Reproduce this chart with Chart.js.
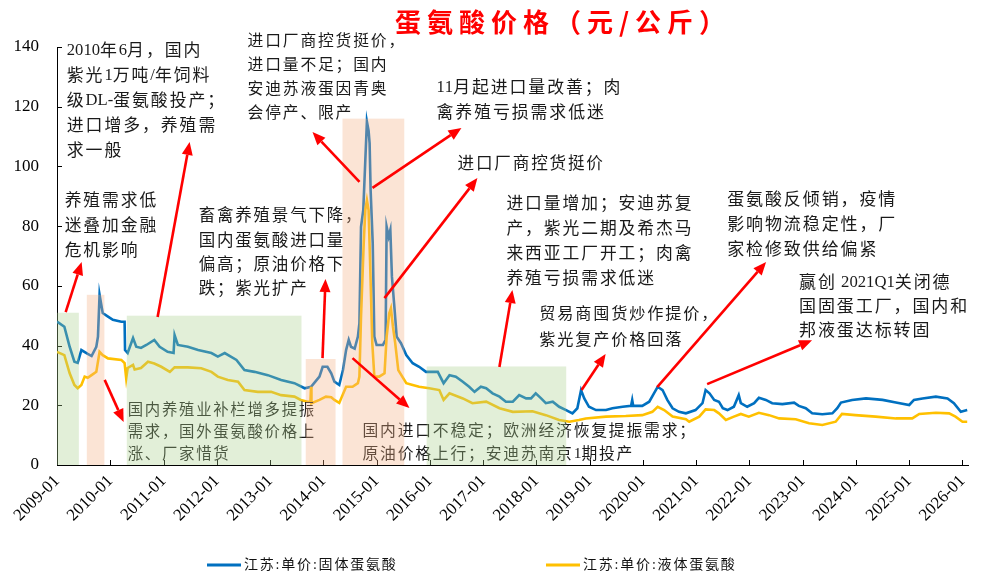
<!DOCTYPE html>
<html><head><meta charset="utf-8">
<script src="https://cdn.jsdelivr.net/npm/chart.js@4.4.1/dist/chart.umd.min.js"></script>
<style>html,body{margin:0;padding:0;background:#fff}canvas{display:block}</style>
</head><body>
<canvas id="c" width="983" height="579"></canvas>
<script>
// ---------- data ----------
const solidLabel = '江苏:单价:固体蛋氨酸';
const liquidLabel = '江苏:单价:液体蛋氨酸';
const solidDates = ['2009-01-01','2009-02-21','2009-03-27','2009-04-29','2009-05-21','2009-06-16','2009-07-29','2009-08-25','2009-09-27','2009-10-08','2009-10-19','2009-11-10','2009-12-16','2010-01-19','2010-03-16','2010-04-08','2010-04-11','2010-04-29','2010-06-05','2010-06-27','2010-07-29','2010-09-05','2010-10-29','2010-12-05','2011-01-29','2011-03-09','2011-03-16','2011-04-08','2011-06-16','2011-08-25','2011-11-25','2012-01-08','2012-02-25','2012-05-14','2012-07-08','2012-09-16','2012-12-16','2013-03-16','2013-06-16','2013-08-25','2013-10-08','2013-10-29','2013-12-05','2013-12-27','2014-01-29','2014-02-25','2014-03-16','2014-04-19','2014-05-14','2014-06-05','2014-06-23','2014-07-08','2014-08-03','2014-08-25','2014-09-05','2014-09-16','2014-10-01','2014-10-15','2014-10-26','2014-11-07','2014-11-14','2014-11-21','2014-12-05','2014-12-16','2015-01-01','2015-02-14','2015-03-02','2015-03-09','2015-03-23','2015-04-04','2015-04-15','2015-05-03','2015-05-17','2015-06-16','2015-07-22','2015-09-05','2015-10-19','2015-12-05','2016-02-25','2016-04-04','2016-05-14','2016-06-27','2016-08-14','2016-09-27','2016-11-03','2016-12-16','2017-01-22','2017-03-05','2017-04-22','2017-06-05','2017-07-22','2017-09-05','2017-10-22','2017-11-25','2017-12-27','2018-02-03','2018-03-05','2018-04-22','2018-06-05','2018-07-22','2018-09-05','2018-10-08','2018-11-03','2018-11-25','2018-12-27','2019-02-14','2019-04-22','2019-06-05','2019-08-14','2019-10-11','2019-10-19','2019-10-26','2019-12-27','2020-02-14','2020-03-16','2020-04-11','2020-05-14','2020-06-16','2020-07-22','2020-09-05','2020-10-22','2020-12-27','2021-02-14','2021-03-05','2021-04-01','2021-05-03','2021-06-05','2021-07-01','2021-08-03','2021-09-16','2021-10-19','2021-11-03','2021-12-16','2022-02-03','2022-03-05','2022-04-22','2022-06-05','2022-08-14','2022-11-03','2022-12-05','2023-01-22','2023-03-05','2023-05-14','2023-07-22','2023-08-25','2023-09-20','2023-12-05','2024-03-09','2024-07-01','2024-10-01','2025-01-01','2025-02-03','2025-04-01','2025-07-01','2025-09-20','2025-11-03','2025-12-20','2026-02-03'];
const solidPrice = [48,46.3,39.6,34.6,34.2,38.5,37.2,36.5,39.6,43,57,50.9,49.7,48.6,48,48,38.5,37.5,42.5,39.6,39.2,40.2,41.9,39.6,37.9,37.5,43.5,40.2,39.6,38.5,37.5,36.3,37.5,35.2,31.8,31.2,30.1,28.5,27.4,25.7,26.2,27.4,29.6,32.9,32.9,30.7,27.9,26.8,31.8,38.5,41.9,39.6,39,43,47.5,79.8,85.4,102,115,112,107.8,92,74.3,43,40.2,40.2,41.9,79.8,76.5,78.7,63,51.9,43,40.8,36.8,34.1,32.9,31.2,31.2,27.4,30.1,29.6,27.9,26.2,24.5,26.2,25.7,24,22.9,21.2,21.2,23.4,22.3,22.3,24,22.3,20.7,21.2,19.5,18.4,17.3,19,25.1,22.3,19.5,18.4,18.4,19,19.5,19.8,21.8,19.8,19.8,21.2,24,26.2,25.1,21.8,19,17.8,17.3,18.4,20.7,25.1,24,21.8,21.2,19,18.4,19.5,23.4,20.7,19.5,20.7,22.5,21.8,20.7,20.4,20.9,19.8,19,17.3,17,17.3,19,20.9,21.8,22.3,21.8,20.9,20.1,21.8,22.3,22.9,22.3,20.7,17.8,18.4];
const liquidDates = ['2009-01-01','2009-02-21','2009-03-27','2009-04-29','2009-05-21','2009-06-16','2009-07-08','2009-07-29','2009-08-25','2009-09-27','2009-10-19','2009-11-10','2009-12-16','2010-03-16','2010-04-08','2010-04-19','2010-04-29','2010-06-05','2010-06-16','2010-07-29','2010-09-16','2010-10-29','2010-12-16','2011-02-14','2011-03-16','2011-06-16','2011-09-16','2011-11-25','2012-01-08','2012-03-16','2012-05-25','2012-07-08','2012-10-08','2013-01-08','2013-03-16','2013-06-16','2013-07-29','2013-09-16','2013-10-04','2013-10-08','2013-10-11','2013-12-05','2014-01-19','2014-02-25','2014-03-16','2014-04-19','2014-06-05','2014-07-19','2014-08-25','2014-09-05','2014-09-16','2014-10-04','2014-10-15','2014-10-26','2014-11-07','2014-11-17','2014-12-02','2014-12-16','2015-01-19','2015-02-25','2015-03-09','2015-03-27','2015-04-08','2015-04-22','2015-05-07','2015-05-28','2015-07-22','2015-09-05','2015-10-19','2015-12-27','2016-03-05','2016-04-04','2016-05-14','2016-08-14','2016-10-19','2017-01-22','2017-04-22','2017-07-22','2017-12-05','2018-03-05','2018-06-05','2018-08-14','2018-10-19','2018-12-05','2019-04-22','2019-09-05','2019-12-27','2020-03-05','2020-04-11','2020-05-25','2020-07-22','2020-10-22','2020-11-14','2021-01-22','2021-03-05','2021-05-03','2021-06-05','2021-07-22','2021-09-16','2021-11-03','2021-12-27','2022-03-05','2022-05-14','2022-07-22','2022-11-14','2023-02-14','2023-05-14','2023-08-14','2023-09-27','2023-12-27','2024-05-14','2024-10-01','2025-01-22','2025-03-09','2025-07-01','2025-10-01','2025-11-14','2026-01-01','2026-02-03'];
const liquidPrice = [37.9,36.8,30.7,26.8,25.7,26.8,29.6,29.2,30.1,31.2,37.9,36.8,35.7,35.2,34.1,29.0,32.5,33.5,32,32.5,34.6,34,32.9,31.2,32.7,32.7,32.4,31.2,29.6,28.5,27.9,25.1,24.5,24.5,23.4,22.9,21.8,21.2,21.2,26.2,20.7,21.8,22.9,22.7,21.8,20.8,26.2,26.2,27.4,29.6,49.7,74.2,85.4,88.7,85.4,68.7,40.9,29.6,29.6,30.7,43,50.8,52.5,46.3,40.8,31.8,27.4,26.8,26.2,25.7,25.1,21.8,24,22.3,20.7,21.2,19,17.8,18,16.7,15.1,14.5,15.1,15.6,16.2,16.4,16.7,17.8,19.5,18.4,16.2,15.3,14.5,16.2,18.6,18.4,17.3,15.1,16.2,17.1,16.2,17.5,16.7,15.6,15.3,14,13.4,14.5,17.1,16.7,16.2,15.6,15.6,17.1,17.5,17.3,16.2,14.5,14.5];
const yearTicks = [2009,2010,2011,2012,2013,2014,2015,2016,2017,2018,2019,2020,2021,2022,2023,2024,2025,2026];
const valueTicks = [0,20,40,60,80,100,120,140];
const chartTitle = '蛋氨酸价格（元/公斤）';

// shaded periods: [start year, end year, top value]
const greenPeriods = [[2009.0, 2009.41, 51], [2010.31, 2013.59, 50], [2015.94, 2018.56, 33]];
const pinkPeriods = [[2009.56, 2009.89, 57], [2013.67, 2014.23, 35.5], [2014.36, 2015.52, 116]];
// arrows: [tail year, tail value, head year, head value]
const arrows = [
  [2009.163, 51.2, 2009.463, 68.0],
  [2010.889, 49.6, 2011.490, 108.2],
  [2009.895, 28.5, 2010.251, 14.4],
  [2013.985, 35.8, 2014.041, 62.3],
  [2014.679, 94.8, 2013.797, 111.5],
  [2014.923, 92.8, 2016.593, 112.9],
  [2015.148, 55.9, 2016.893, 96.1],
  [2014.548, 35.8, 2015.617, 19.1],
  [2017.306, 32.8, 2017.550, 58.6],
  [2018.849, 25.1, 2019.300, 37.2],
  [2020.268, 26.1, 2022.313, 68.0],
  [2021.206, 27.1, 2023.176, 41.8]
];
// notes: anchor year, anchor value, lines
const notes = [
  {x: 2009.184, y: 139.0, lh: 25, pitch: 18.8, lines: ['2010年6月，国内','紫光1万吨/年饲料','级DL-蛋氨酸投产；','进口增多，养殖需','求一般']},
  {x: 2009.144, y: 88.8, lh: 25, pitch: 18.7, lines: ['养殖需求低','迷叠加金融','危机影响']},
  {x: 2012.578, y: 142.3, lh: 24, pitch: 17.6, lines: ['进口厂商控货挺价，','进口量不足；国内','安迪苏液蛋因青奥','会停产、限产']},
  {x: 2016.126, y: 126.6, lh: 25, pitch: 18.8, lines: ['11月起进口量改善；肉','禽养殖亏损需求低迷']},
  {x: 2016.520, y: 101.1, lh: 25, pitch: 18.4, lines: ['进口厂商控货挺价']},
  {x: 2011.659, y: 83.7, lh: 24.3, pitch: 18.3, lines: ['畜禽养殖景气下降，','国内蛋氨酸进口量','偏高；原油价格下','跌；紫光扩产']},
  {x: 2010.328, y: 18.8, lh: 22, pitch: 17.1, lines: ['国内养殖业补栏增多提振','需求，国外蛋氨酸价格上','涨、厂家惜货']},
  {x: 2014.735, y: 11.7, lh: 23, pitch: 17.6, lines: ['国内进口不稳定；欧洲经济恢复提振需求；','原油价格上行；安迪苏南京1期投产']},
  {x: 2017.437, y: 87.8, lh: 25, pitch: 18.7, lines: ['进口量增加；安迪苏复','产，紫光二期及希杰马','来西亚工厂开工；肉禽','养殖亏损需求低迷']},
  {x: 2018.056, y: 50.9, lh: 26, pitch: 18.0, lines: ['贸易商囤货炒作提价，','紫光复产价格回落']},
  {x: 2021.582, y: 89.4, lh: 25, pitch: 18.9, lines: ['蛋氨酸反倾销，疫情','影响物流稳定性，厂','家检修致供给偏紧']},
  {x: 2022.932, y: 61.3, lh: 24, pitch: 18.9, lines: ['赢创 2021Q1关闭德','国固蛋工厂，国内和','邦液蛋达标转固']}
];

// ---------- helpers ----------
function toYear(s) { const p = s.split('-').map(Number); return p[0] + (p[1] - 1) / 12 + (p[2] - 1) / 365; }
const BLUE = '#0070C0', YELLOW = '#FFC000';
const isCJK = ch => /[\u2E80-\u9FFF\uF900-\uFAFF\uFE30-\uFE4F\uFF00-\uFFEF]/.test(ch);

// draw a line of mixed CJK / Latin text: CJK glyphs on a fixed pitch, Latin at natural width
function drawMixed(ctx, text, x, y, pitch, size) {
  const cjkFont = size + 'px "Noto Sans CJK SC", sans-serif';
  const latFont = (size * 0.98).toFixed(1) + 'px "Liberation Serif", serif';
  let cx = x;
  for (const ch of text) {
    if (isCJK(ch)) { ctx.font = cjkFont; ctx.fillText(ch, cx, y); cx += pitch; }
    else { ctx.font = latFont; ctx.fillText(ch, cx, y + 0.5); cx += ctx.measureText(ch).width; }
  }
}

const annotPlugin = {
  id: 'annot',
  afterDatasetsDraw(chart) {
    const ctx = chart.ctx, xs = chart.scales.x, ys = chart.scales.y, ca = chart.chartArea;
    // tick marks (inside)
    ctx.save();
    ctx.strokeStyle = '#000'; ctx.lineWidth = 1;
    valueTicks.forEach(v => { const y = Math.round(ys.getPixelForValue(v)) + 0.5; ctx.beginPath(); ctx.moveTo(ca.left, y); ctx.lineTo(ca.left + 5, y); ctx.stroke(); });
    yearTicks.forEach(v => { const x = Math.round(xs.getPixelForValue(v)) + 0.5; ctx.beginPath(); ctx.moveTo(x, ca.bottom); ctx.lineTo(x, ca.bottom - 5); ctx.stroke(); });
    ctx.restore();
    // notes
    ctx.save();
    ctx.fillStyle = '#1a1a1a';
    ctx.textBaseline = 'middle'; ctx.textAlign = 'left';
    notes.forEach(n => {
      const x = xs.getPixelForValue(n.x), y = ys.getPixelForValue(n.y);
      const size = Math.round(n.pitch * 0.9 * 10) / 10;
      n.lines.forEach((t, i) => drawMixed(ctx, t, x, y + i * n.lh, n.pitch, size));
    });
    ctx.restore();
    // shaded periods (overlay)
    ctx.save();
    const box = (p, color) => {
      const x1 = xs.getPixelForValue(p[0]), x2 = xs.getPixelForValue(p[1]);
      const y1 = ys.getPixelForValue(p[2]), y2 = ys.getPixelForValue(0);
      ctx.fillStyle = color; ctx.fillRect(x1, y1, x2 - x1, y2 - y1);
    };
    greenPeriods.forEach(p => box(p, 'rgba(169,208,142,0.34)'));
    pinkPeriods.forEach(p => box(p, 'rgba(244,176,132,0.34)'));
    ctx.restore();
    // arrows
    ctx.save();
    ctx.strokeStyle = '#FF0000'; ctx.fillStyle = '#FF0000'; ctx.lineWidth = 2.6;
    arrows.forEach(a => {
      const x1 = xs.getPixelForValue(a[0]), y1 = ys.getPixelForValue(a[1]);
      const x2 = xs.getPixelForValue(a[2]), y2 = ys.getPixelForValue(a[3]);
      const ang = Math.atan2(y2 - y1, x2 - x1), L = 13, W = 5.5;
      const bx = x2 - L * Math.cos(ang), by = y2 - L * Math.sin(ang);
      ctx.beginPath(); ctx.moveTo(x1, y1); ctx.lineTo(bx, by); ctx.stroke();
      ctx.beginPath(); ctx.moveTo(x2, y2);
      ctx.lineTo(bx + W * Math.sin(ang), by - W * Math.cos(ang));
      ctx.lineTo(bx - W * Math.sin(ang), by + W * Math.cos(ang));
      ctx.closePath(); ctx.fill();
    });
    ctx.restore();
  },
  afterDraw(chart) {
    const ctx = chart.ctx;
    ctx.save();
    // title
    ctx.fillStyle = '#FF0000';
    ctx.font = 'bold 26px "Noto Sans CJK SC", sans-serif';
    ctx.textBaseline = 'middle'; ctx.textAlign = 'left';
    ctx.letterSpacing = '6px';
    ctx.fillText(chartTitle, 395, 22);
    ctx.letterSpacing = '1.8px';
    // legend
    const items = [[solidLabel, BLUE, 207], [liquidLabel, YELLOW, 546]];
    ctx.font = '14px "Liberation Serif", "Noto Sans CJK SC", serif';
    items.forEach(it => {
      ctx.strokeStyle = it[1]; ctx.lineWidth = 3;
      ctx.beginPath(); ctx.moveTo(it[2], 565); ctx.lineTo(it[2] + 34, 565); ctx.stroke();
      ctx.fillStyle = '#111';
      ctx.fillText(it[0], it[2] + 37, 565);
    });
    ctx.letterSpacing = '0px';
    ctx.restore();
  }
};

new Chart(document.getElementById('c'), {
  type: 'line',
  data: {
    datasets: [
      { label: liquidLabel, data: liquidDates.map((d, i) => ({x: toYear(d), y: liquidPrice[i]})), borderColor: YELLOW, borderWidth: 2.6, pointRadius: 0, tension: 0, fill: false, order: 0 },
      { label: solidLabel, data: solidDates.map((d, i) => ({x: toYear(d), y: solidPrice[i]})), borderColor: BLUE, borderWidth: 2.6, pointRadius: 0, tension: 0, fill: false, order: 1 }
    ]
  },
  options: {
    responsive: false, animation: false, devicePixelRatio: 1,
    layout: { padding: { top: 47, right: 13, left: 0, bottom: 0 } },
    plugins: { legend: { display: false }, title: { display: false }, tooltip: { enabled: false } },
    scales: {
      x: {
        type: 'linear', min: 2009, max: 2026.12, offset: false,
        afterBuildTicks: s => { s.ticks = yearTicks.map(v => ({ value: v })); },
        afterFit: s => { s.height = 114; },
        ticks: { autoSkip: false, maxRotation: 45, minRotation: 45, padding: 6, color: '#000',
          font: { family: 'Liberation Serif', size: 17 }, callback: v => v + '-01' },
        grid: { display: false, drawTicks: false },
        border: { display: true, color: '#000', width: 1 }
      },
      y: {
        min: 0, max: 140,
        afterBuildTicks: s => { s.ticks = valueTicks.map(v => ({ value: v })); },
        afterFit: s => { s.width = 57; },
        ticks: { padding: 18, color: '#000', font: { family: 'Liberation Serif', size: 17 } },
        grid: { display: false, drawTicks: false },
        border: { display: true, color: '#000', width: 1 }
      }
    }
  },
  plugins: [annotPlugin]
});
</script>
</body></html>
